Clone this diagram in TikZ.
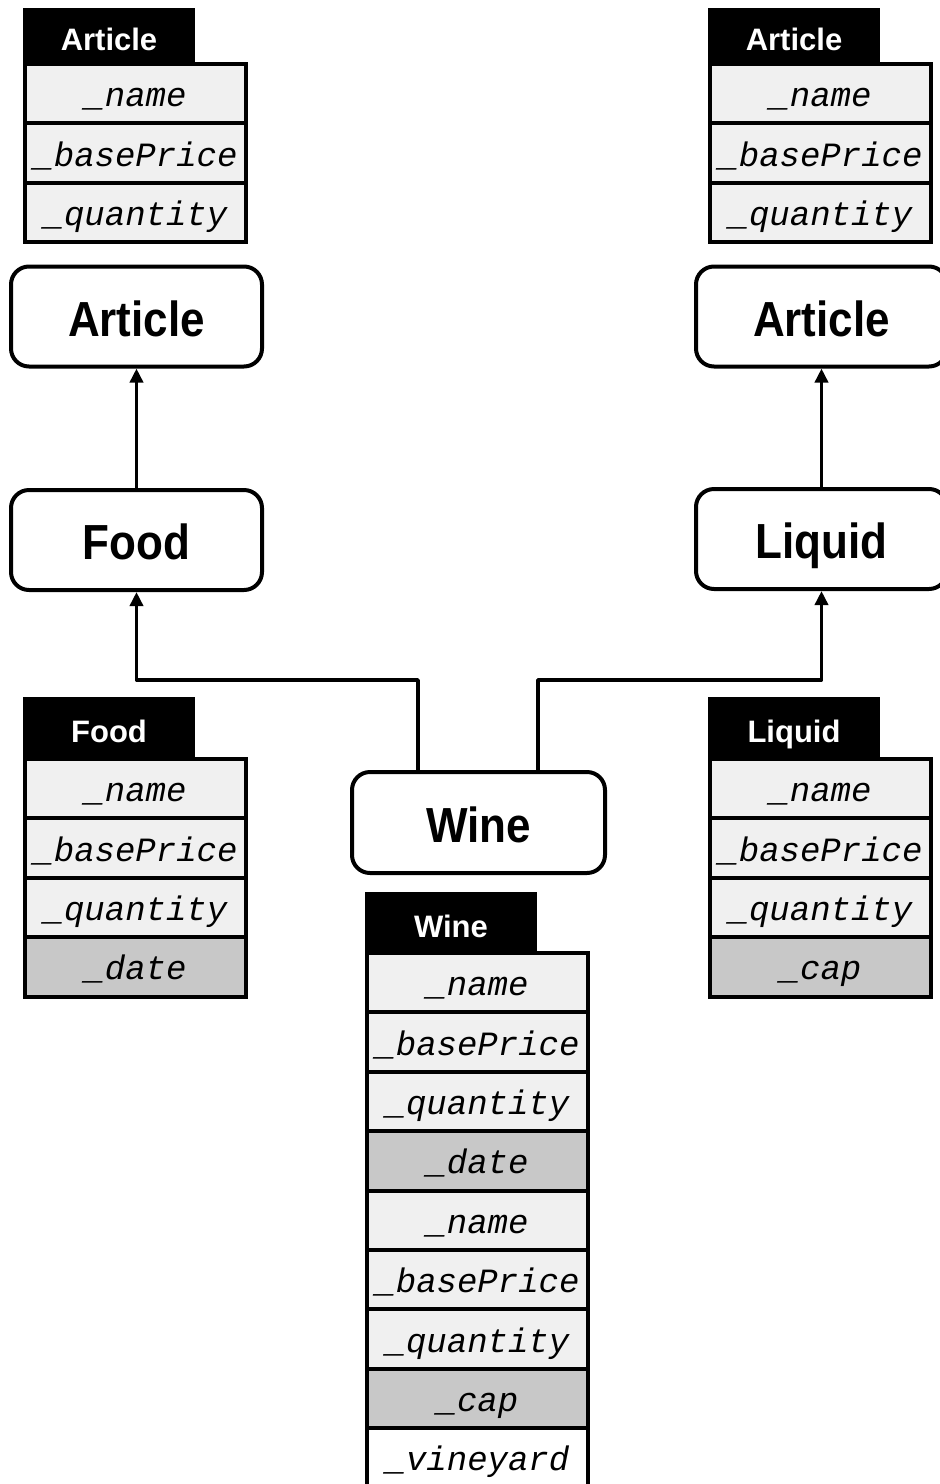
\documentclass[tikz,border=0pt]{standalone}
\usepackage{fontspec}
\setmainfont{Liberation Sans}
\setmonofont{Liberation Mono}
\usetikzlibrary{arrows.meta}
\definecolor{rowlight}{HTML}{F0F0F0}
\definecolor{rowdark}{HTML}{C8C8C8}
\newcommand{\tallt}[1]{\scalebox{1}[1.12]{#1}}
\tikzset{
  cls/.style={draw, line width=4pt, rounded corners=18pt, fill=white,
    minimum width=251pt, minimum height=100pt, inner sep=0pt,
    text height=39pt, text depth=0pt,
    font=\fontsize{44}{50}\selectfont\bfseries},
  hdr/.style={fill=black, text=white, minimum width=172pt, inner sep=0pt,
    outer sep=0pt, anchor=north west, text height=31pt, text depth=0pt,
    font=\fontsize{31}{36}\selectfont\bfseries},
  fld/.style={draw, line width=4pt, minimum width=221pt, minimum height=59.4pt,
    inner sep=0pt, outer sep=0pt, anchor=north west,
    text height=30pt, text depth=4pt,
    font=\fontsize{34}{40}\selectfont\ttfamily\itshape},
  conn/.style={line width=3.5pt, line join=round,
    -{Triangle[length=14pt,width=13pt]}},
}
\newcommand{\umltab}[6]{%
  \node[hdr, minimum height=#4pt] (#1-h) at (#2,#3) {#5};
  \foreach \t/\s [count=\i from 0] in {#6} {
    \node[fld, fill=\s] (#1-\i) at ({#2+2},{#3+#4+2+59.4*\i}) {\t};
  }%
}
\begin{document}
\begin{tikzpicture}[x=1pt, y=-1pt]
\clip (0,0) rectangle (940,1484);
\fill[white] (0,0) rectangle (940,1484);

% class tables
\umltab{ta}{23}{8}{54}{Article}{\_name/rowlight, \_basePrice/rowlight, \_quantity/rowlight}
\umltab{tb}{708}{8}{54}{Article}{\_name/rowlight, \_basePrice/rowlight, \_quantity/rowlight}
\umltab{tf}{23}{697}{60}{Food}{\_name/rowlight, \_basePrice/rowlight, \_quantity/rowlight, \_date/rowdark}
\umltab{tl}{708}{697}{60}{Liquid}{\_name/rowlight, \_basePrice/rowlight, \_quantity/rowlight, \_cap/rowdark}
\umltab{tw}{365}{892}{59}{Wine}{\_name/rowlight, \_basePrice/rowlight, \_quantity/rowlight, \_date/rowdark, \_name/rowlight, \_basePrice/rowlight, \_quantity/rowlight, \_cap/rowdark, \_vineyard/white}

% class nodes
\node[cls] (A1) at (136.5,316.5) {\tallt{Article}};
\node[cls] (F)  at (136.5,540)   {\tallt{Food}};
\node[cls] (A2) at (821.5,316.5) {\tallt{Article}};
\node[cls] (L)  at (821.5,539)   {\tallt{Liquid}};
\node[cls, minimum width=253pt, minimum height=101pt] (W) at (478.5,822.5) {\tallt{Wine}};

% connectors
\coordinate (jl) at (418,680);
\coordinate (jr) at (538,680);
\draw[conn] (F.north) -- (A1.south);
\draw[conn] (L.north) -- (A2.south);
\draw[conn] (W.north -| jl) -- (jl) -| (F.south);
\draw[conn] (W.north -| jr) -- (jr) -| (L.south);
\end{tikzpicture}
\end{document}
